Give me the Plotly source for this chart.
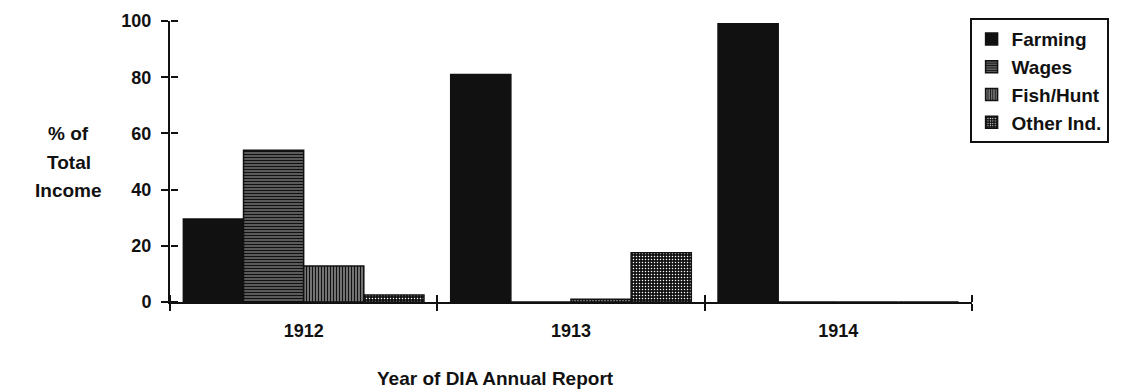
import plotly.graph_objects as go

# Share of total income by source, per DIA annual report year
years = ["1912", "1913", "1914"]
farming = [29.5, 81, 99]
wages = [54, 0, 0]
fish_hunt = [12.8, 1, 0]
other_ind = [2.5, 17.5, 0]

y_ticks = [0, 20, 40, 60, 80, 100]

FONT = "Liberation Sans, Arial, sans-serif"
INK = "#111111"

series = [
    ("Farming", farming, None),
    ("Wages", wages, dict(shape="-", fgcolor=INK, bgcolor="#8a8a8a", size=3, solidity=0.6, fillmode="replace")),
    ("Fish/Hunt", fish_hunt, dict(shape="|", fgcolor=INK, bgcolor="#a0a0a0", size=3, solidity=0.55, fillmode="replace")),
    ("Other Ind.", other_ind, dict(shape=".", fgcolor="#ffffff", bgcolor=INK, size=3, solidity=0.2, fillmode="replace")),
]

fig = go.Figure()
for name, vals, pat in series:
    fig.add_trace(go.Bar(
        name=name, x=years, y=vals,
        marker=dict(color=INK if pat is None else "#ffffff",
                    line=dict(color=INK, width=1.5),
                    pattern=pat),
    ))

# transparent trace on overlay axes; these axes draw the inner half of the crossing ticks
fig.add_trace(go.Scatter(x=years, y=[50, 50, 50], xaxis="x2", yaxis="y2",
                         mode="markers", showlegend=False,
                         marker=dict(color="rgba(0,0,0,0)"), hoverinfo="skip"))

tick_font = dict(size=18, family=FONT, weight="bold", color=INK)

fig.update_layout(
    width=1137, height=392,
    margin=dict(l=170, r=165, t=21, b=90),
    paper_bgcolor="white", plot_bgcolor="white",
    barmode="group", bargap=0.1, bargroupgap=0,
    font=dict(family=FONT, size=17, color=INK, weight="bold"),
    xaxis=dict(type="category", range=[-0.5, 2.5], showline=True, linecolor=INK,
               linewidth=2, ticks="outside", tickson="boundaries", ticklen=7,
               tickwidth=2, tickcolor=INK, showgrid=False, zeroline=False,
               tickfont=tick_font, ticklabelstandoff=11),
    yaxis=dict(range=[0, 100], tickvals=y_ticks, showline=True, linecolor=INK,
               linewidth=2, ticks="outside", ticklen=7, tickwidth=2,
               tickcolor=INK, showgrid=False, zeroline=False,
               tickfont=tick_font, ticklabelstandoff=6),
    # opposite-side axes pinned to the same edges, ticks pointing into the plot
    xaxis2=dict(type="category", range=[-0.5, 2.5], overlaying="x",
                anchor="free", position=0, side="top", ticks="outside",
                tickson="boundaries", ticklen=7, tickwidth=2, tickcolor=INK,
                showticklabels=False, showgrid=False, zeroline=False,
                showline=False),
    yaxis2=dict(range=[0, 100], tickvals=y_ticks, overlaying="y",
                anchor="free", position=0, side="right", ticks="outside",
                ticklen=7, tickwidth=2, tickcolor=INK, showticklabels=False,
                showgrid=False, zeroline=False, showline=False),
    legend=dict(x=0.997, xanchor="left", y=1.01, yanchor="top",
                bordercolor=INK, borderwidth=2, bgcolor="white",
                font=dict(size=19, family=FONT, weight="bold", color=INK),
                itemwidth=30, tracegroupgap=0),
    showlegend=True,
)

label_font = dict(size=19, family=FONT, weight="bold", color=INK)
for txt, ypos in [("% of", 133), ("Total", 162), ("Income", 190)]:
    fig.add_annotation(text=txt, xref="paper", yref="paper",
                       x=(69 - 170) / 802, y=(302 - ypos) / 281,
                       xanchor="center", yanchor="middle", showarrow=False,
                       font=label_font)

fig.add_annotation(text="Year of DIA Annual Report", xref="paper", yref="paper",
                   x=(495 - 170) / 802, y=(302 - 378) / 281,
                   xanchor="center", yanchor="middle", showarrow=False,
                   font=label_font)

fig.write_html("out.html")
